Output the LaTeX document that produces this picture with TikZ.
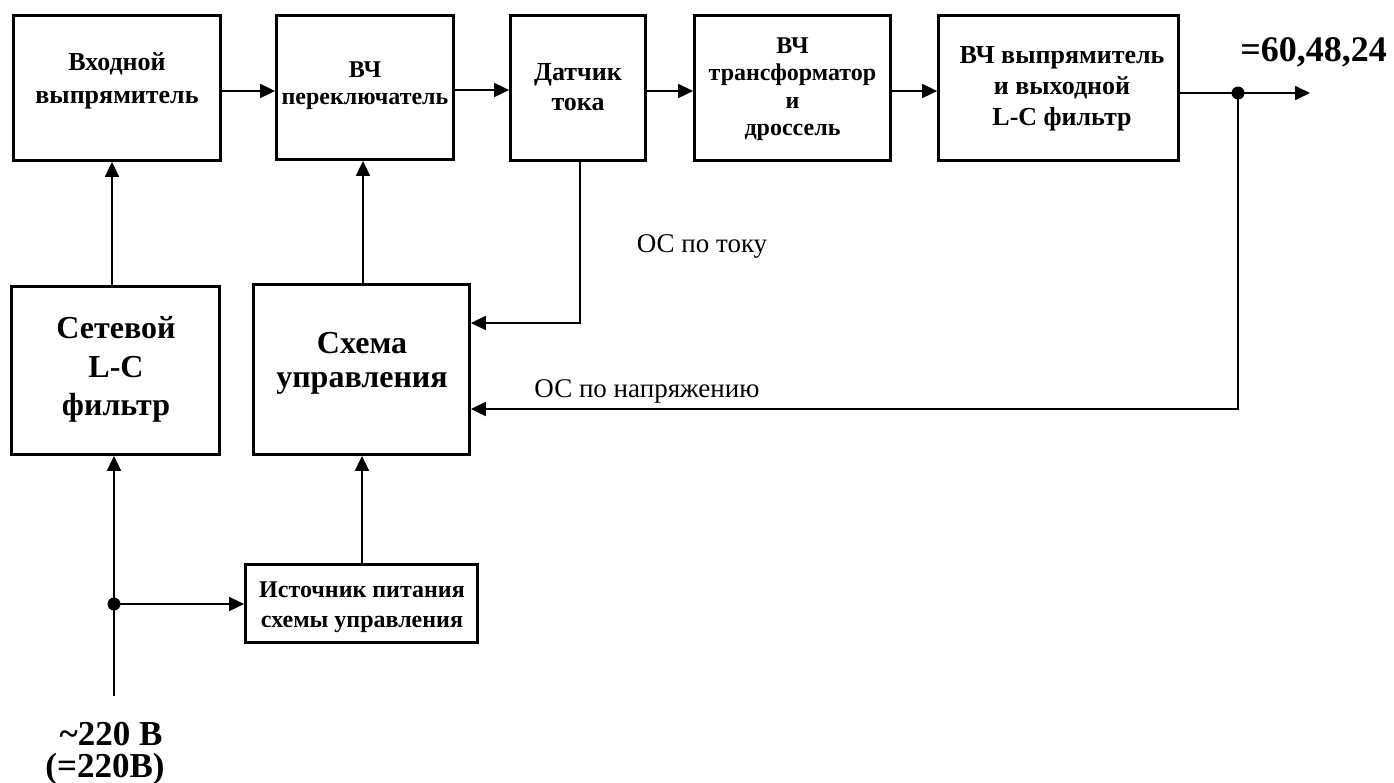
\documentclass[tikz,border=0pt]{standalone}
\usepackage{fontspec}
\setmainfont{Liberation Serif}
\usetikzlibrary{arrows.meta,calc}
\begin{document}
\begin{tikzpicture}[x=1pt,y=-1pt,
  blk/.style={draw, line width=2.8pt, rectangle, inner sep=0pt},
  txt/.style={align=center, inner sep=0pt, font=\bfseries},
  arr/.style={line width=1.8pt, -{Triangle[length=15pt,width=14pt]}},
  ln/.style={line width=1.8pt},
  dot/.style={circle, fill, inner sep=0pt, minimum size=13pt},
  lbl/.style={inner sep=0pt, font=\fontsize{27}{30}\selectfont}
]
\useasboundingbox (0,0) rectangle (1394,782);
% boxes
\node[blk, minimum width=207pt, minimum height=145pt] (B1) at (117,88) {};
\node[blk, minimum width=177pt, minimum height=144pt] (B2) at (365,87.5) {};
\node[blk, minimum width=135pt, minimum height=145pt] (B3) at (578,88) {};
\node[blk, minimum width=196pt, minimum height=145pt] (B4) at (792.5,88) {};
\node[blk, minimum width=240pt, minimum height=145pt] (B5) at (1058.5,88) {};
\node[blk, minimum width=208pt, minimum height=168pt] (S) at (115.5,370.5) {};
\node[blk, minimum width=216pt, minimum height=170pt] (C) at (361.5,369.5) {};
\node[blk, minimum width=232pt, minimum height=78pt] (P) at (361.5,603.5) {};
% texts
\node[txt, font=\bfseries\fontsize{26}{33}\selectfont] (T1) at (117,81) {Входной\\выпрямитель};
\node[txt, font=\bfseries\fontsize{24}{27}\selectfont] (T2) at (365,86) {ВЧ\\переключатель};
\node[txt, font=\bfseries\fontsize{26}{30}\selectfont] (T3) at (578,87.5) {Датчик\\тока};
\node[txt, font=\bfseries\fontsize{24}{27.5}\selectfont] (T4) at (792.5,89) {ВЧ\\трансформатор\\и\\дроссель};
\node[txt, font=\bfseries\fontsize{26}{31}\selectfont] (T5) at (1062,89) {ВЧ выпрямитель\\и выходной\\L-C фильтр};
\node[txt, font=\bfseries\fontsize{32}{38.5}\selectfont] (TS) at (116,369.5) {Сетевой\\L-C\\фильтр};
\node[txt, font=\bfseries\fontsize{32}{34}\selectfont] (TC) at (362,363) {Схема\\управления};
\node[txt, font=\bfseries\fontsize{24}{30}\selectfont] (TP) at (362,607.5) {Источник питания\\схемы управления};
% junctions and free ends
\node[dot] (J1) at (1238,93) {};
\node[dot] (J2) at (114,604) {};
\coordinate (OUT) at (1310,93);
\coordinate (IN) at (114,696);
% top chain
\draw[arr] (B1.east |- 0,91) -- (B2.west |- 0,91);
\draw[arr] (B2.east |- 0,90) -- (B3.west |- 0,90);
\draw[arr] (B3.east |- 0,91) -- (B4.west |- 0,91);
\draw[arr] (B4.east |- 0,91) -- (B5.west |- 0,91);
\draw[ln] (B5.east |- 0,93) -- (J1.center);
\draw[arr] (J1.center) -- (OUT);
% vertical feeds
\draw[arr] (S.north -| 112,0) -- (B1.south -| 112,0);
\draw[arr] (C.north -| 363,0) -- (B2.south -| 363,0);
\draw[arr] (P.north -| 362,0) -- (C.south -| 362,0);
% feedbacks
\draw[arr] (B3.south -| 580,0) |- (C.east |- 0,323);
\draw[arr] (J1.center) |- (C.east |- 0,409);
% input
\draw[arr] (IN) -- (S.south -| 114,0);
\draw[arr] (J2.center) -- (P.west |- J2);
% labels
\node[lbl] (L1) at (702,246) {ОС по току};
\node[lbl] (L2) at (647,391) {ОС по напряжению};
\node[txt, font=\bfseries\fontsize{36}{36}\selectfont] (V1) at (1313.5,52) {=60,48,24};
\node[txt, anchor=base, font=\bfseries\fontsize{35}{35}\selectfont] (V2) at (111,745) {\textasciitilde220 В};
\node[txt, anchor=base, font=\bfseries\fontsize{35}{35}\selectfont] (V3) at (105,777) {(=220В)};
\end{tikzpicture}
\end{document}
